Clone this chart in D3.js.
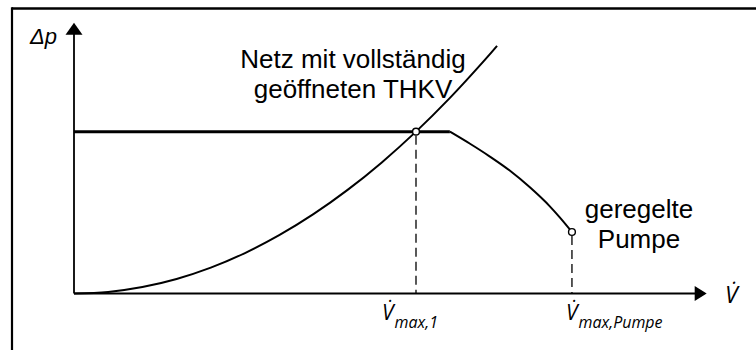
<!DOCTYPE html>
<html>
<head>
<meta charset="utf-8">
<script src="https://cdn.jsdelivr.net/npm/d3@7"></script>
<style>
  html, body { margin: 0; padding: 0; background: #fff; }
  svg { display: block; }
</style>
</head>
<body>
<svg id="chart" width="756" height="350"></svg>
<script>
// Network characteristic with fully opened thermostatic valves (Δp over V̇)
const netzV  = [0, 0.1, 0.2, 0.3, 0.4, 0.5, 0.6, 0.7, 0.8, 0.9, 1.0, 1.1, 1.2, 1.237];
const netzDp = [0, 0.01, 0.04, 0.09, 0.16, 0.25, 0.36, 0.49, 0.64, 0.81, 1.0, 1.21, 1.44, 1.53];

// Controlled pump: constant head, then falling off to its maximum flow
const pumpeV  = [0, 1.099, 1.158, 1.216, 1.275, 1.333, 1.392, 1.421, 1.456];
const pumpeDp = [1, 1, 0.925, 0.846, 0.758, 0.656, 0.537, 0.469, 0.380];

// Marked operating points
const punktV  = [1.0, 1.456];
const punktDp = [1.0, 0.380];

// Axis extents (arrow tips)
const vMax = 1.85;
const dpMax = 1.673;

const svg = d3.select("#chart");

const x = d3.scaleLinear().domain([0, vMax]).range([74, 706.7]);
const y = d3.scaleLinear().domain([0, dpMax]).range([293.5, 22.7]);

// outer frame (open towards right and bottom)
svg.append("line").attr("x1", 12).attr("y1", 8.5).attr("x2", 756).attr("y2", 8.5)
  .attr("stroke", "#000").attr("stroke-width", 2.5);
svg.append("line").attr("x1", 12).attr("y1", 7.3).attr("x2", 12).attr("y2", 350)
  .attr("stroke", "#000").attr("stroke-width", 2.2);

// axes with arrow heads
svg.append("line").attr("x1", x(0)).attr("y1", y(0)).attr("x2", x(0)).attr("y2", y(dpMax) + 10)
  .attr("stroke", "#000").attr("stroke-width", 1.8);
svg.append("line").attr("x1", x(0)).attr("y1", y(0)).attr("x2", x(vMax) - 10).attr("y2", y(0))
  .attr("stroke", "#000").attr("stroke-width", 1.8);
svg.append("path")
  .attr("d", `M${x(0)},${y(dpMax)} L${x(0) - 8.5},${y(dpMax) + 12} L${x(0) + 8.5},${y(dpMax) + 12} Z`)
  .attr("fill", "#000");
svg.append("path")
  .attr("d", `M${x(vMax)},${y(0)} L${x(vMax) - 12},${y(0) - 7.5} L${x(vMax) - 12},${y(0) + 7.5} Z`)
  .attr("fill", "#000");

// dashed drop lines to the V̇ axis
svg.selectAll("line.drop").data(punktV).join("line")
  .attr("class", "drop")
  .attr("x1", d => x(d)).attr("x2", d => x(d))
  .attr("y1", (d, i) => y(punktDp[i]) + 4).attr("y2", y(0))
  .attr("stroke", "#000").attr("stroke-width", 1.3)
  .attr("stroke-dasharray", "9,5");

// network parabola
svg.append("path")
  .attr("d", d3.line().x(d => x(d[0])).y(d => y(d[1])).curve(d3.curveCatmullRom)(d3.zip(netzV, netzDp)))
  .attr("fill", "none").attr("stroke", "#000").attr("stroke-width", 2);

// pump: constant part
const pumpe = d3.zip(pumpeV, pumpeDp);
svg.append("path")
  .attr("d", d3.line().x(d => x(d[0])).y(d => y(d[1]))(pumpe.slice(0, 2)))
  .attr("fill", "none").attr("stroke", "#000").attr("stroke-width", 3);
// pump: falling part
svg.append("path")
  .attr("d", d3.line().x(d => x(d[0])).y(d => y(d[1])).curve(d3.curveMonotoneX)(pumpe.slice(1)))
  .attr("fill", "none").attr("stroke", "#000").attr("stroke-width", 2);

// operating point markers
svg.selectAll("circle.pt").data(punktV).join("circle")
  .attr("class", "pt")
  .attr("cx", d => x(d)).attr("cy", (d, i) => y(punktDp[i]))
  .attr("r", 3.4)
  .attr("fill", "#fff").attr("stroke", "#000").attr("stroke-width", 1.4);

// curve labels
const sans = "'Liberation Sans', Arial, sans-serif";
const netzLabel = svg.append("text")
  .attr("font-family", sans).attr("font-size", 26).attr("text-anchor", "middle").attr("fill", "#000");
netzLabel.append("tspan").attr("x", 353).attr("y", 68).text("Netz mit vollständig");
netzLabel.append("tspan").attr("x", 353).attr("y", 97.5).text("geöffneten THKV");

const pumpeLabel = svg.append("text")
  .attr("font-family", sans).attr("font-size", 26).attr("text-anchor", "middle").attr("fill", "#000");
pumpeLabel.append("tspan").attr("x", 639).attr("y", 218).text("geregelte");
pumpeLabel.append("tspan").attr("x", 639).attr("y", 248).text("Pumpe");

// axis titles
svg.append("text")
  .attr("x", 30).attr("y", 44)
  .attr("font-family", sans).attr("font-style", "italic").attr("font-size", 22)
  .text("Δp");

const vFont = "'Open Sans', 'DejaVu Sans', sans-serif";
svg.append("text")
  .attr("x", 725).attr("y", 303)
  .attr("font-family", vFont).attr("font-style", "italic").attr("font-size", 23)
  .text("V\u0307");

// V̇ tick labels
const tickSubs = ["max,1", "max,Pumpe"];
const tickOffsets = [-34, -6];
tickSubs.forEach((s, i) => {
  const t = svg.append("text")
    .attr("x", x(punktV[i]) + tickOffsets[i]).attr("y", 320)
    .attr("font-family", vFont).attr("font-style", "italic").attr("font-size", 21);
  t.append("tspan").text("V\u0307");
  t.append("tspan").attr("font-size", 16).attr("dy", 8).attr("dx", 1).text(s);
});
</script>
</body>
</html>
